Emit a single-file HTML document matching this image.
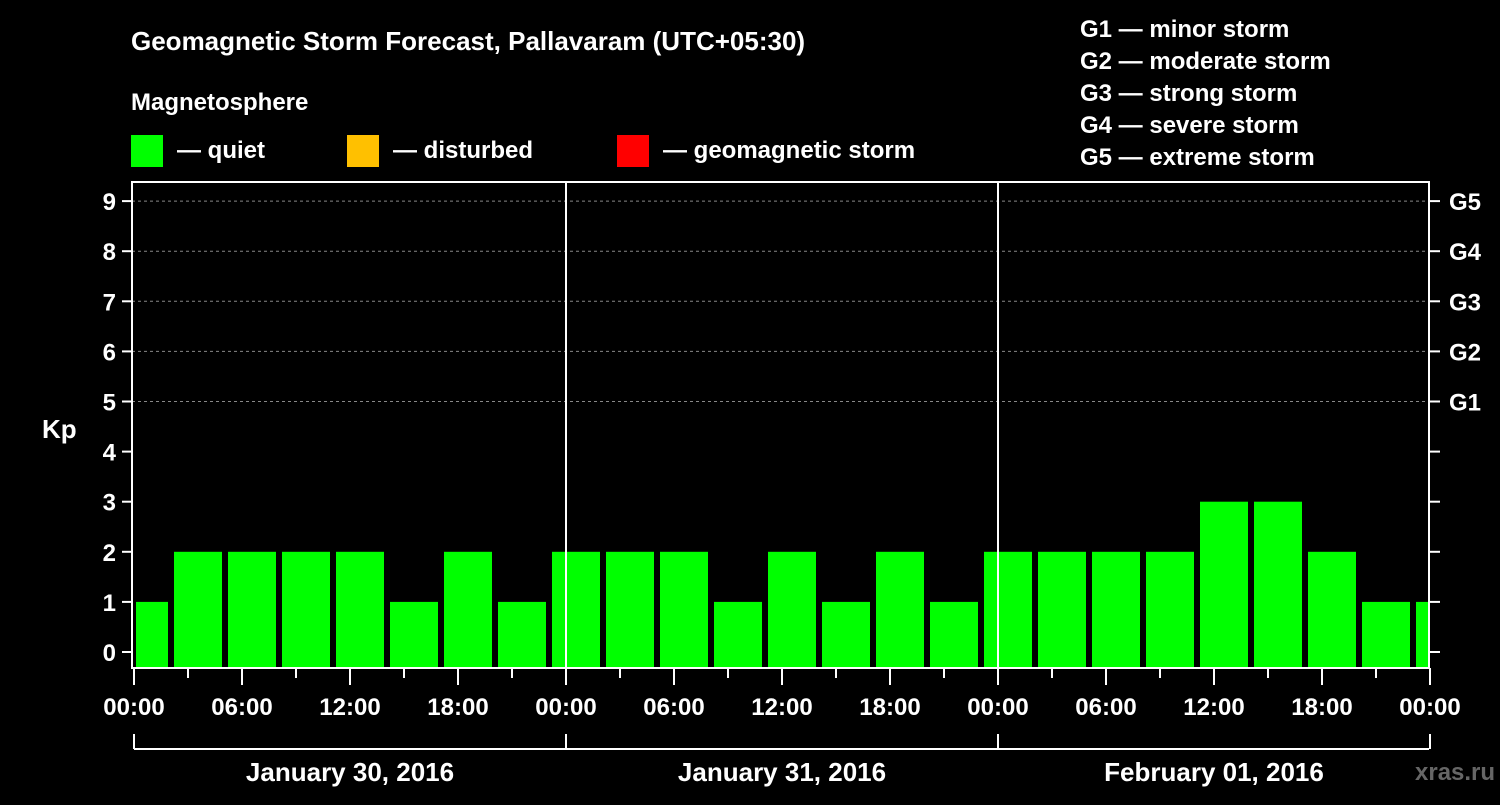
<!DOCTYPE html>
<html><head><meta charset="utf-8"><style>
body{margin:0;background:#000;width:1500px;height:800px;overflow:hidden}
svg text{font-family:"Liberation Sans",Arial,sans-serif;font-weight:bold;fill:#fff}
</style></head><body>
<svg id="c" width="1500" height="800" xmlns="http://www.w3.org/2000/svg">
<text x="131" y="50" font-size="26">Geomagnetic Storm Forecast, Pallavaram (UTC+05:30)</text>
<text x="131" y="110" font-size="24">Magnetosphere</text>
<rect x="131" y="135" width="32" height="32" fill="#00ff00"/>
<text x="177" y="158" font-size="24">— quiet</text>
<rect x="347" y="135" width="32" height="32" fill="#ffc000"/>
<text x="393" y="158" font-size="24">— disturbed</text>
<rect x="617" y="135" width="32" height="32" fill="#ff0000"/>
<text x="663" y="158" font-size="24">— geomagnetic storm</text>
<g font-size="24">
<text x="1080" y="37">G1 — minor storm</text>
<text x="1080" y="69">G2 — moderate storm</text>
<text x="1080" y="101">G3 — strong storm</text>
<text x="1080" y="133">G4 — severe storm</text>
<text x="1080" y="165">G5 — extreme storm</text>
</g>
<text x="42" y="438" font-size="26">Kp</text>
<text x="1415" y="780" font-size="24" fill="#555" style="fill:#666">xras.ru</text>
<g id="grid"></g><g id="bars"></g><g id="axes"></g>
</svg>
<script>
const kpValues=[1,2,2,2,2,1,2,1, 2,2,2,1,2,1,2,1, 2,2,2,2,3,3,2,1,1];
const yTicks=[0,1,2,3,4,5,6,7,8,9];
const gLabels=["G1","G2","G3","G4","G5"];
const xTickLabels=["00:00","06:00","12:00","18:00","00:00","06:00","12:00","18:00","00:00","06:00","12:00","18:00","00:00"];
const dayLabels=["January 30, 2016","January 31, 2016","February 01, 2016"];
const NS="http://www.w3.org/2000/svg";
const L=132,R=1429,T=182,B=668;
const x=h=>134+18*h;
const y=v=>652-50.1*v;
function mk(tag,attrs,parent,txt){const e=document.createElementNS(NS,tag);for(const k in attrs)e.setAttribute(k,attrs[k]);if(txt!==undefined)e.textContent=txt;document.getElementById(parent).appendChild(e);return e;}
// grid
for(let v=5;v<=9;v++){const e=mk('line',{x1:L,x2:R,y1:y(v),y2:y(v),stroke:'#888','stroke-dasharray':'3,3','stroke-width':1},'grid');

}
// bars
kpValues.forEach((v,i)=>{const h0=-0.778+3*i,h1=h0+2.667;
let x0=Math.max(x(h0),136),x1=Math.min(x(h1),1428);
const c=v>=5?'#ff0000':(v>=4?'#ffc000':'#00ff00');
const e=mk('rect',{x:x0,y:y(v),width:x1-x0,height:B-y(v),fill:c},'bars');

});
// frame
let f=mk('rect',{x:L,y:T,width:R-L,height:B-T,fill:'none',stroke:'#fff','stroke-width':2},'axes');


[566,998].forEach((xx,i)=>{const e=mk('line',{x1:xx,x2:xx,y1:T,y2:B,stroke:'#fff','stroke-width':2},'axes');

});
yTicks.forEach(v=>{mk('line',{x1:122,x2:L,y1:y(v),y2:y(v),stroke:'#fff','stroke-width':2},'axes');
mk('line',{x1:R,x2:1440,y1:y(v),y2:y(v),stroke:'#fff','stroke-width':2},'axes');
const t=mk('text',{x:116,y:y(v)+9,'font-size':24,'text-anchor':'end'},'axes',String(v));

});
gLabels.forEach((g,i)=>{const t=mk('text',{x:1449,y:y(5+i)+9,'font-size':24},'axes',g);

});
for(let h=0;h<=72;h+=3){const long=h%6===0;mk('line',{x1:x(h),x2:x(h),y1:B,y2:long?685:678,stroke:'#fff','stroke-width':2},'axes');}
xTickLabels.forEach((s,i)=>{const t=mk('text',{x:x(6*i),y:715,'font-size':24,'text-anchor':'middle'},'axes',s);

});
mk('line',{x1:134,x2:1429,y1:749,y2:749,stroke:'#fff','stroke-width':2},'axes');
[0,24,48,72].forEach(h=>mk('line',{x1:x(h),x2:x(h),y1:734,y2:749,stroke:'#fff','stroke-width':2},'axes'));
dayLabels.forEach((s,i)=>{const t=mk('text',{x:x(24*i+12),y:781,'font-size':26,'text-anchor':'middle'},'axes',s);

});
</script>
</body></html>
